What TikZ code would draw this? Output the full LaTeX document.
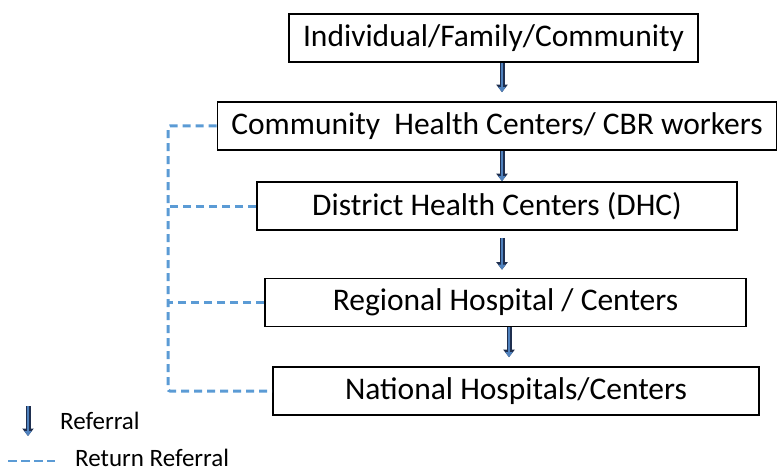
\documentclass[tikz,border=0pt]{standalone}
\usepackage{fontspec}
\setmainfont{Carlito}
\usetikzlibrary{arrows.meta}
\definecolor{retblue}{HTML}{5B9BD5}
\definecolor{refblue}{HTML}{4F81BD}
\definecolor{refdark}{HTML}{1F2F4F}
\tikzset{
  level/.style={draw=black, line width=1.6pt, minimum height=48pt, inner sep=0pt, font=\fontsize{31.5}{36}\selectfont},
  refer/.style={draw=refblue, line width=2.6pt, -{Triangle[length=5pt,width=7pt]},
    preaction={draw=refdark, line width=5pt, -{Triangle[length=7.5pt,width=11pt]}}},
  ret/.style={draw=retblue, line width=3pt, dash pattern=on 8pt off 5pt, rounded corners=2pt},
  legend/.style={anchor=base west, font=\fontsize{25}{29}\selectfont, inner sep=0pt}
}
\begin{document}
\begin{tikzpicture}[x=1pt, y=-1pt]
      \useasboundingbox (0,0) rectangle (778,473);
      \draw
        (493.5,38) node[level, minimum width=409pt] (ind){Individual/Family/Community}
        (497,126) node[level, minimum width=559pt] (chc){Community\ \ Health Centers/ CBR workers}
        (497,206) node[level, minimum width=480pt] (dhc){District Health Centers (DHC)}
        (505.5,302.5) node[level, minimum width=481pt] (reg){Regional Hospital / Centers}
        (516,391) node[level, minimum width=486pt] (nat){National Hospitals/Centers};
      \coordinate (ax) at (502,0);
      \coordinate (bx) at (509,0);
      \coordinate (rx) at (168,0);
      \begin{scope}
        \draw[refer, shorten >=9pt] (ind.south -| ax) to (chc.north -| ax);
        \draw[refer] (chc.south -| ax) to (dhc.north -| ax);
        \draw[refer, shorten <=7pt, shorten >=8pt] (dhc.south -| ax) to (reg.north -| ax);
        \draw[refer, shorten >=9pt] (reg.south -| bx) to (nat.north -| bx);
      \end{scope}
      \begin{scope}
        \draw[ret] (chc.west) -- (chc.west -| rx) |- (nat.west);
        \draw[ret] (dhc.west) -- (dhc.west -| rx);
        \draw[ret] (reg.west) -- (reg.west -| rx);
      \end{scope}
      % legend
      \coordinate (ra) at (28,406);
      \coordinate (rb) at (28,436);
      \coordinate (da) at (8,461);
      \coordinate (db) at (55,461);
      \draw[refer] (ra) to (rb);
      \draw[ret, line width=2.4pt, dash pattern=on 9pt off 4pt] (da) to (db);
      \node[legend] (lref) at (60,429) {Referral};
      \node[legend] (lret) at (75,466) {Return Referral};
    \end{tikzpicture}
\end{document}
